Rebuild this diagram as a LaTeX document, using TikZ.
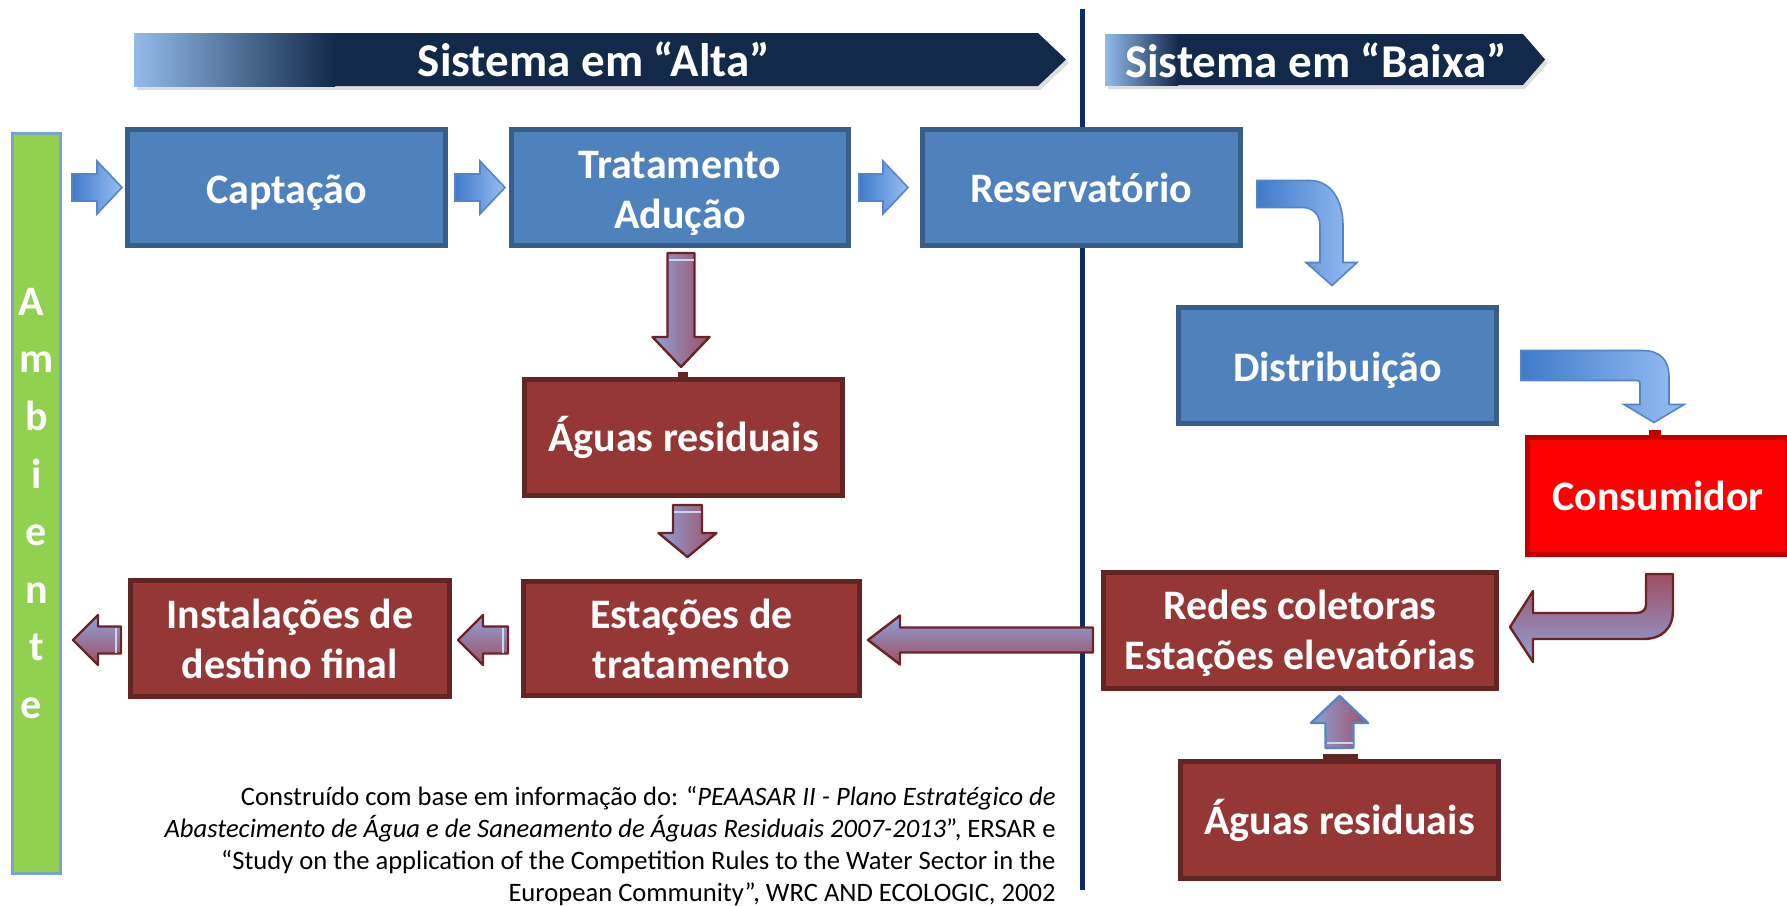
\documentclass[tikz,border=0pt]{standalone}
\usepackage{fontspec}
\setmainfont{Carlito}
\usetikzlibrary{calc}
\definecolor{boxblue}{HTML}{4F81BD}
\definecolor{boxblueline}{HTML}{385D8A}
\definecolor{boxred}{HTML}{953735}
\definecolor{boxredline}{HTML}{632523}
\definecolor{consred}{HTML}{FF0000}
\definecolor{consline}{HTML}{C00000}
\definecolor{ambgreen}{HTML}{92D050}
\definecolor{ambline}{HTML}{7BA2D3}
\definecolor{navy}{HTML}{12294A}
\definecolor{bannerlight}{HTML}{93BBEA}
\definecolor{divline}{HTML}{0D2B69}
\definecolor{arrblueA}{HTML}{3F7BCB}
\definecolor{arrblueB}{HTML}{98BEF4}
\definecolor{arrblueline}{HTML}{5585C4}
\definecolor{lav}{HTML}{8EA2DA}
\definecolor{mauve}{HTML}{9E4F62}
\definecolor{arrredline}{HTML}{6B2326}
\newcommand\boxfont{\fontsize{21}{25}\selectfont\bfseries}
\newcommand\bannerfont{\fontsize{23.5}{28}\selectfont\bfseries}
\newcommand\citefont{\fontsize{13.3}{16}\selectfont}
\newcommand\ambl[1]{#1\hspace*{5pt}}
% #1 style, #2 tail coordinate, #3 angle, #4 length, #5 shaft half width, #6 head half width, #7 head length
\newcommand\blockarr[7]{%
  \path[#1, shift={(#2)}, rotate=#3] (0,-#5) -- ({#4-#7},-#5) -- ({#4-#7},-#6) -- (#4,0)
    -- ({#4-#7},#6) -- ({#4-#7},#5) -- (0,#5) -- cycle;}
% tail band: #1 style, #2 tail coordinate, #3 angle, #4 offset, #5 shaft half width
\newcommand\tailband[5]{%
  \draw[#1, shift={(#2)}, rotate=#3] (#4,{-#5+1}) -- (#4,{#5-1});}
\tikzset{
  sz/.style 2 args={minimum width={(#1-5)*0.5pt}, minimum height={(#2-5)*0.5pt}},
  basebox/.style={line width=2.5pt, text=white, font=\boxfont, align=center, inner sep=0pt},
  bluebox/.style={basebox, draw=boxblueline, fill=boxblue},
  redbox/.style={basebox, draw=boxredline, fill=boxred},
  consbox/.style={basebox, draw=consline, fill=consred},
  bannertext/.style={text=white, font=\bannerfont, inner sep=0pt},
  bluearr/.style={left color=arrblueA, right color=arrblueB, draw=arrblueline, line width=0.8pt},
  redarrV/.style={left color=lav, right color=mauve, draw=arrredline, line width=1.2pt, line join=round},
  redarrH/.style={top color=lav, bottom color=mauve, draw=arrredline, line width=1.2pt, line join=round},
  redarrU/.style={top color=mauve, bottom color=lav, draw=arrredline, line width=1.2pt, line join=round},
  uparr/.style={left color=lav, right color=mauve, draw=arrblueline, line width=1.2pt, line join=round},
  band/.style={draw=white!55!lav, line width=0.8pt},
}
\begin{document}
\begin{tikzpicture}[x=0.5pt,y=-0.5pt]
\useasboundingbox (0,0) rectangle (1787,905);
\fill[white] (0,0) rectangle (1787,905);

% divider
\draw[divline, line width=2.5pt] (1082,9) coordinate (dtop) -- (1082,890) coordinate (dbot);

% banners
\fill[gray!50, opacity=0.5] (137,37) -- (1040,37) -- (1069,63) -- (1040,90) -- (137,90) -- cycle;
\fill[navy] (134,33) -- (1038,33) -- (1066,59.5) -- (1038,86) -- (134,86) -- cycle;
\shade[left color=bannerlight, right color=navy] (134,33) rectangle (335,86);
\node[bannertext] (alta) at (594,59) {Sistema em “Alta”};

\fill[gray!50, opacity=0.5] (1108,38) -- (1525,38) -- (1548,63) -- (1525,89) -- (1108,89) -- cycle;
\fill[navy] (1105,34) -- (1523,34) -- (1545,59.5) -- (1523,85) -- (1105,85) -- cycle;
\shade[left color=bannerlight, right color=navy] (1105,34) rectangle (1178,85);
\node[bannertext] (baixa) at (1316,60) {Sistema em “Baixa”};

% ambiente
\node[draw=ambline, fill=ambgreen, line width=1.5pt, minimum width=24pt, minimum height=370pt,
  text=white, font=\fontsize{21}{28.8}\selectfont\bfseries, align=center, inner sep=0pt]
  (amb) at (36.5,503.5) {\ambl{A}\\\ambl{m}\\\ambl{b}\\\ambl{i}\\\ambl{e}\\\ambl{n}\\\ambl{t}\\\ambl{e}};

% boxes
\node[bluebox, sz={323}{121}] (capt) at (286.5,187.5) {\rule{0pt}{20pt}Captação};
\node[bluebox, sz={342}{121}] (trat) at (680,187.5) {\rule{0pt}{20pt}Tratamento\\Adução};
\node[bluebox, sz={323}{121}] (res) at (1081.5,187.5) {Reservatório};
\node[bluebox, sz={323}{121}] (dist) at (1337.5,365.5) {\rule{0pt}{20pt}Distribuição};
\node[consbox, sz={266}{122}] (cons) at (1658,496) {Consumidor};
\node[redbox, sz={323}{121}] (agua1) at (683.5,437.5) {Águas residuais};
\node[redbox, sz={341}{119}] (estac) at (691.5,638.5) {Estações de\\tratamento};
\node[redbox, sz={324}{121}] (inst) at (290,638.5) {Instalações de\\destino final};
\node[redbox, sz={398}{121}] (redes) at (1300,630.5) {\rule{0pt}{18pt}Redes coletoras\\Estações elevatórias};
\node[redbox, sz={323}{122}] (agua2) at (1339.5,820) {Águas residuais};

% tabs
\fill[boxredline] ($(agua1.north)+(-6,-5)$) rectangle ($(agua1.north)+(4,1)$);
\fill[consline] ($(cons.north)+(-9,-5)$) rectangle ($(cons.north)+(3,1)$);
\fill[boxredline] ($(agua2.north)+(-17,-5)$) rectangle ($(agua2.north)+(18,1)$);

% straight blue arrows
\coordinate (b1) at ($(capt.west)+(-53,0)$);
\coordinate (b2) at ($(capt.east)+(7,0)$);
\coordinate (b3) at ($(trat.east)+(8,0)$);
\blockarr{bluearr}{b1}{0}{50}{13.5}{26.5}{25}
\blockarr{bluearr}{b2}{0}{50}{13.5}{26.5}{25}
\blockarr{bluearr}{b3}{0}{49}{13.5}{26.5}{25}

% curved blue arrows
\coordinate (c1) at ($(res.east)+(14,6.5)$);
\path[bluearr, shift={(c1)}] (0,-13.5) -- (53,-13.5) .. controls (73,-13.5) and (86,5) .. (86,31.5)
  -- (86,68.5) -- (100,68.5) -- (75,91.5) -- (49,68.5) -- (63,68.5) -- (63,31.5)
  .. controls (63,20) and (55,13.5) .. (46,13.5) -- (0,13.5) -- cycle;
\coordinate (c2) at ($(dist.east)+(22,0)$);
\path[bluearr, shift={(c2)}] (0,-15) -- (121,-15) .. controls (140,-15) and (148,-5) .. (148,12)
  -- (148,39) -- (163,39) -- (133,57) -- (103,39) -- (119,39) -- (119,18)
  .. controls (119,16) and (118,15) .. (116,15) -- (0,15) -- cycle;

% red arrows
\coordinate (r1) at ($(trat.south)+(1,5)$);
\coordinate (r2) at ($(agua1.south)+(4,7)$);
\coordinate (r3) at ($(estac.west)+(-13,1.5)$);
\coordinate (r4) at ($(inst.west)+(-7,1.5)$);
\coordinate (r5) at ($(redes.west)+(-8,9.5)$);
\coordinate (u1) at ($(agua2.north)+(0,-11)$);
\blockarr{redarrV}{r1}{-90}{114}{13.5}{28.5}{30}
\tailband{band}{r1}{-90}{7}{13.5}
\blockarr{redarrV}{r2}{-90}{52}{14.5}{29}{24}
\tailband{band}{r2}{-90}{7}{14.5}
\blockarr{redarrH}{r3}{180}{50}{13.5}{25}{25}
\tailband{band}{r3}{180}{5}{13.5}
\blockarr{redarrH}{r4}{180}{48}{13.5}{25}{25}
\tailband{band}{r4}{180}{5}{13.5}
\blockarr{redarrH}{r5}{180}{225}{12.5}{24.5}{32}
\blockarr{uparr}{u1}{90}{52}{14}{28.5}{27}
\tailband{band}{u1}{90}{5}{14}

% U-turn arrow
\coordinate (c3) at ($(cons.south)+(1.5,17)$);
\path[redarrU, shift={(c3)}] (-13.5,0) -- (13.5,0) -- (13.5,36) .. controls (13.5,55) and (2,65) .. (-16.5,65)
  -- (-126.5,65) -- (-126.5,88) -- (-149.5,53) -- (-126.5,17) -- (-126.5,39) -- (-22.5,39)
  .. controls (-17,39) and (-13.5,35) .. (-13.5,31) -- cycle;

% citation
\node[font=\citefont, align=right, anchor=east, inner sep=0pt] (cite) at (1056,846)
 {Construído com base em informação do: “\textit{PEAASAR II - Plano Estratégico de}\\
  \textit{Abastecimento de Água e de Saneamento de Águas Residuais 2007-2013}”, ERSAR e\\
  “Study on the application of the Competition Rules to the Water Sector in the\\
  European Community”, WRC AND ECOLOGIC, 2002};
\end{tikzpicture}
\end{document}
